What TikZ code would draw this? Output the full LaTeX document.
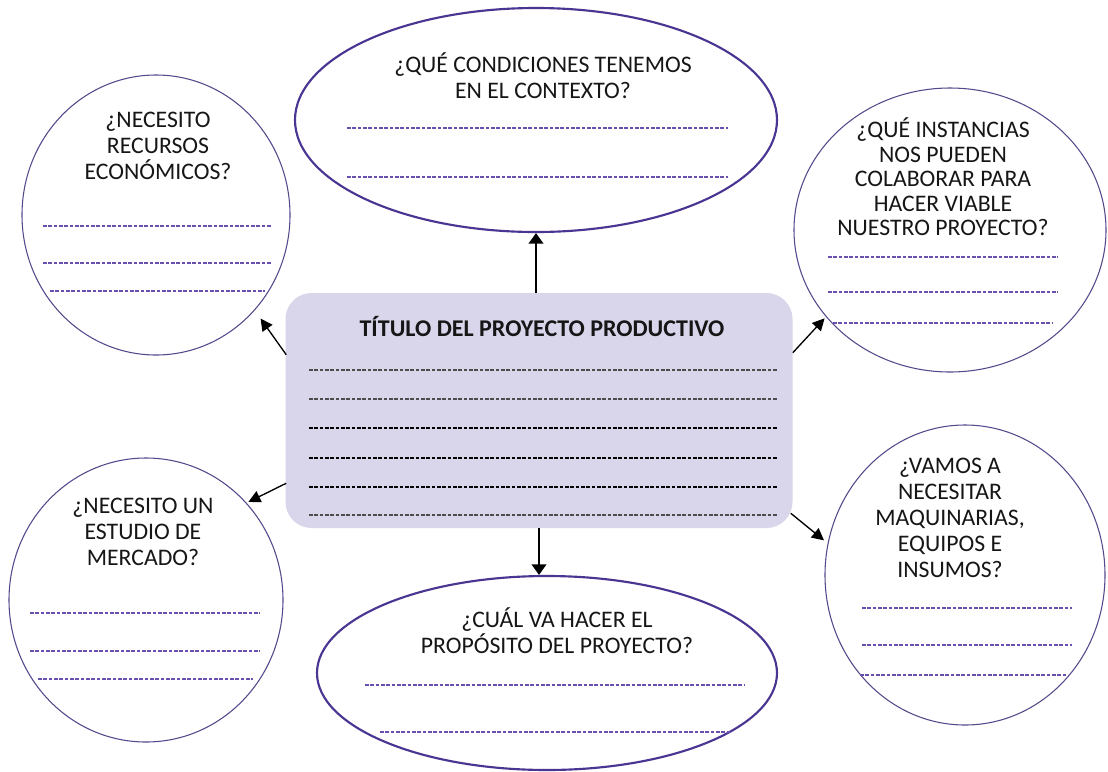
\documentclass[tikz,border=0pt]{standalone}
\usepackage{fontspec}
\setmainfont{Carlito}
\usetikzlibrary{shapes.geometric,arrows.meta,calc}
\definecolor{ringc}{HTML}{55498C}
\definecolor{ovalc}{HTML}{4A3592}
\definecolor{dashc}{HTML}{6A50AE}
\definecolor{boxfill}{HTML}{D9D5EB}
\definecolor{txtc}{HTML}{161616}
\begin{document}
\begin{tikzpicture}[x=0.75pt,y=-0.75pt,
  ring/.style={draw=ringc, line width=0.8pt, ellipse, inner sep=0pt},
  oval/.style={draw=ovalc, line width=1.6pt, ellipse, inner sep=0pt},
  qtext/.style={align=center, font=\fontsize{17.8}{19.5}\selectfont, text=txtc, inner sep=0pt},
  dl/.style={draw=dashc, line width=1.05pt, dash pattern=on 2.8pt off 1.2pt},
  dlk/.style={draw=black!70, line width=0.9pt, dash pattern=on 2.8pt off 1.2pt},
  dlkb/.style={draw=black, line width=1.4pt, dash pattern=on 2.8pt off 1.2pt},
  arr/.style={-{Triangle[length=9pt,width=9pt]}, line width=1pt, black},
  varr/.style={-{Triangle[length=8pt,width=11pt]}, line width=1.6pt, black}]
\useasboundingbox (0,0) rectangle (1108,772);
\fill[white] (0,0) rectangle (1108,772);

% shapes
\node[oval, minimum width=0.75*482pt, minimum height=0.75*224pt] (top) at (536,120) {};
\node[oval, minimum width=0.75*460pt, minimum height=0.75*194pt] (bot) at (547,673) {};
\node[ring, minimum width=0.75*268pt, minimum height=0.75*280pt] (tl) at (156,215) {};
\node[ring, minimum width=0.75*312pt, minimum height=0.75*284pt] (tr) at (950,230) {};
\node[ring, minimum width=0.75*274pt, minimum height=0.75*284pt] (bl) at (146,600) {};
\node[ring, minimum width=0.75*280pt, minimum height=0.75*300pt] (br) at (965,575) {};
\node[rectangle, rounded corners=19.5pt, fill=boxfill, inner sep=0pt,
      minimum width=0.75*507pt, minimum height=0.75*235pt] (box) at (539,410.5) {};

% texts
\node[font=\bfseries\fontsize{18}{20}\selectfont, text=txtc, inner sep=0pt] (title) at (542,327) {TÍTULO DEL PROYECTO PRODUCTIVO};
\node[qtext] (ttop) at (543,76) {¿QUÉ CONDICIONES TENEMOS\\EN EL CONTEXTO?};
\node[qtext] (ttl) at (158,146) {¿NECESITO\\RECURSOS\\ECONÓMICOS?};
\node[qtext, font=\fontsize{17.8}{18.4}\selectfont] (ttr) at (943,177) {¿QUÉ INSTANCIAS\\NOS PUEDEN\\COLABORAR PARA\\HACER VIABLE\\NUESTRO PROYECTO?};
\node[qtext] (tbl) at (143,532) {¿NECESITO UN\\ESTUDIO DE\\MERCADO?};
\node[qtext] (tbot) at (557,631) {¿CUÁL VA HACER EL\\PROPÓSITO DEL PROYECTO?};
\node[qtext] (tbr) at (950,518) {¿VAMOS A\\NECESITAR\\MAQUINARIAS,\\EQUIPOS E\\INSUMOS?};

% box lines
\draw[dlk] (309,370) -- (778,370);
\draw[dlk] (309,399) -- (778,399);
\draw[dlkb] (309,428) -- (778,428);
\draw[dlkb] (309,458) -- (778,458);
\draw[dlkb] (309,487) -- (778,487);
\draw[dlk] (309,515) -- (778,515);

% top oval lines
\draw[dl] (347,128) -- (728,128);
\draw[dl] (347,177) -- (728,177);
% bottom oval lines
\draw[dl, line width=1.5pt] (365,685) -- (745,685);
\draw[dl, line width=1.5pt] (380,732) -- (730,732);
% tl
\draw[dl, line width=1.6pt] (43,226) -- (272,226);
\draw[dl] (43,263) -- (272,263);
\draw[dl] (50,291) -- (265,291);
% tr
\draw[dl, line width=1.6pt] (828,257) -- (1058,257);
\draw[dl, line width=1.6pt] (828,292) -- (1058,292);
\draw[dl, line width=1.6pt] (833,323) -- (1052,323);
% bl
\draw[dl] (30,613) -- (260,613);
\draw[dl] (30,651) -- (260,651);
\draw[dl, line width=1.6pt] (38,679) -- (253,679);
% br
\draw[dl, line width=1.6pt] (862,608) -- (1072,608);
\draw[dl, line width=1.6pt] (862,645) -- (1072,645);
\draw[dl] (860,675) -- (1068,675);

% connectors
\draw[varr] (box.north -| top.south) -- (top.south);
\draw[varr] (box.south) -- (box.south |- bot.north);
\draw[arr, shorten >=7.5pt] ($(box.north west)+(1,62)$) -- (tl.-44);
\draw[arr, shorten >=1.5pt] ($(box.north east)+(0,60)$) -- (tr.215);
\draw[arr, shorten >=1.5pt] ($(box.south west)+(1,-45)$) -- (bl.44);
\draw[arr, shorten >=3.5pt] ($(box.south east)+(-2,-15)$) -- (br.167);
\end{tikzpicture}
\end{document}
